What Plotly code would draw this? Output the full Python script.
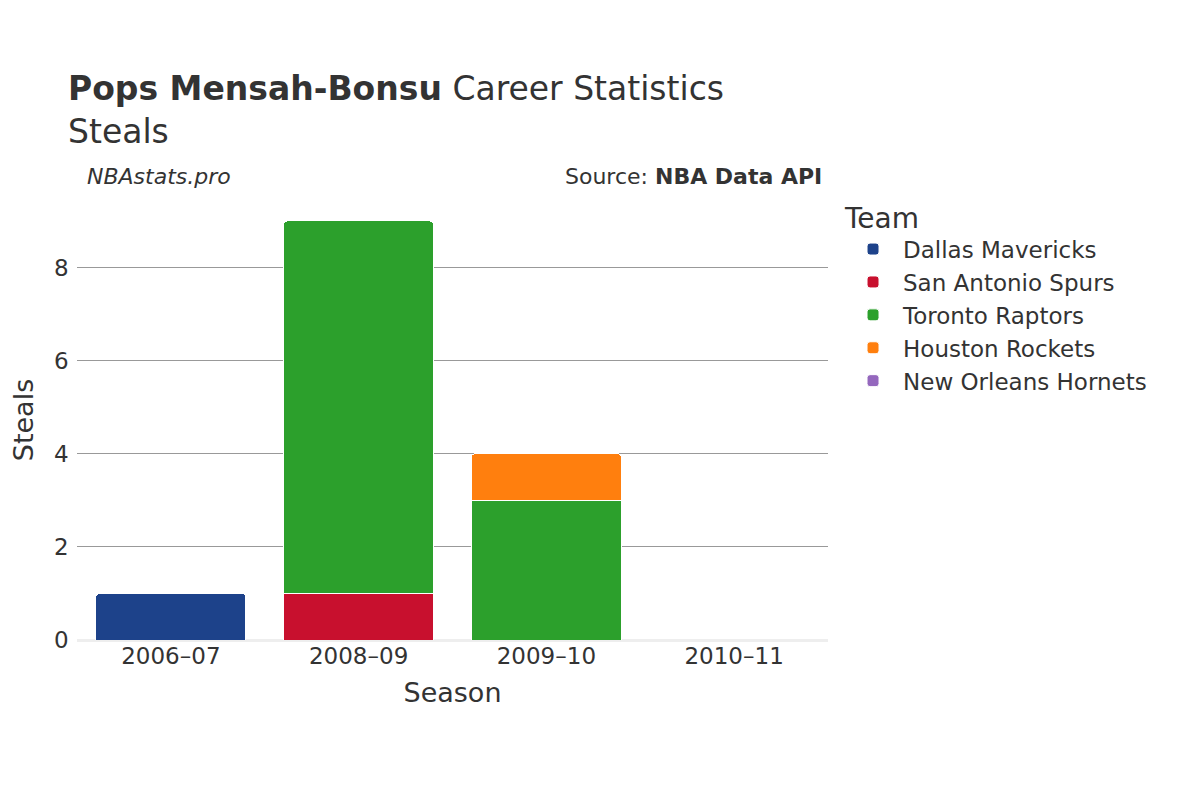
import plotly.graph_objects as go

seasons = ["2006–07", "2008–09", "2009–10", "2010–11"]
teams = ["Dallas Mavericks", "San Antonio Spurs", "Toronto Raptors", "Houston Rockets", "New Orleans Hornets"]
colors = ["#1d428a", "#c8102e", "#2ca02c", "#ff7f0e", "#9467bd"]
team_seasons = [["2006–07"], ["2008–09"], ["2008–09", "2009–10"], ["2009–10"], ["2010–11"]]
team_steals = [[1], [1], [8, 3], [1], [0]]

fig = go.Figure()
for t, c, s, v in zip(teams, colors, team_seasons, team_steals):
    fig.add_bar(x=s, y=v, name=t, marker=dict(color=c, line=dict(color="white", width=1)))

fig.update_layout(
    barmode="stack", barcornerradius=4,
    width=1200, height=800,
    font=dict(family="DejaVu Sans", size=22, color="#333"),
    paper_bgcolor="white", plot_bgcolor="white",
    margin=dict(l=67, r=380, t=192, b=168),
    title=dict(text="<b>Pops Mensah-Bonsu</b> Career Statistics<br>Steals", x=0.05, y=0.885, xanchor="left", font=dict(size=33)),
    legend=dict(title=dict(text="Team", font=dict(size=28)), x=1.02, y=1.02, yanchor="top", font=dict(size=23),
                traceorder="normal", itemwidth=50, tracegroupgap=8),
    xaxis=dict(title=dict(text="Season", font=dict(size=27)), tickfont=dict(size=23)),
    yaxis=dict(title=dict(text="Steals", font=dict(size=27)), range=[0, 9.45], dtick=2, gridcolor="#999",
               zeroline=True, zerolinecolor="#eee", zerolinewidth=3, tickfont=dict(size=23), ticksuffix=" "),
    bargap=0.2,
    annotations=[
        dict(text="<i>NBAstats.pro</i>", xref="paper", yref="paper", x=0.01, y=1.02, xanchor="left", yanchor="bottom", showarrow=False, font=dict(size=22)),
        dict(text="Source: <b>NBA Data API</b>", xref="paper", yref="paper", x=0.995, y=1.02, xanchor="right", yanchor="bottom", showarrow=False, font=dict(size=22)),
    ],
)
fig.write_html("out.html")
